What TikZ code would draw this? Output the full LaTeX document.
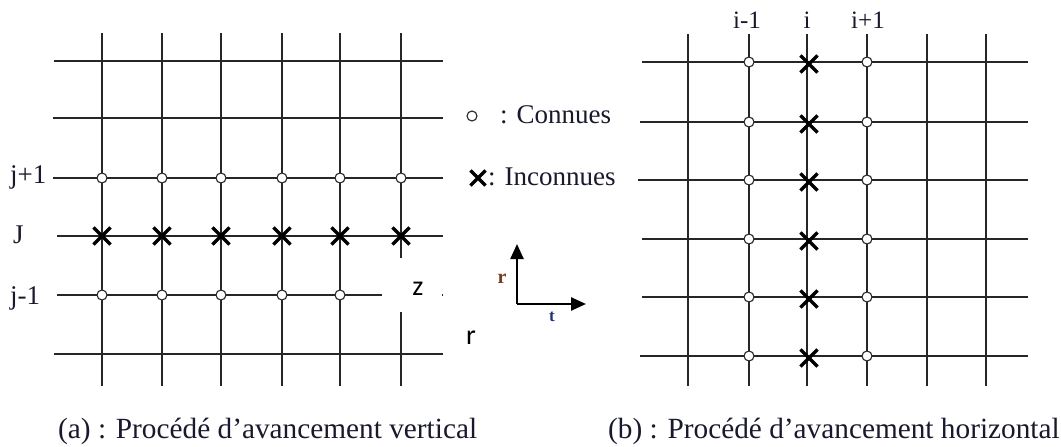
\documentclass[tikz,border=0pt]{standalone}
\usepackage{fontspec}
\setmainfont{Liberation Serif}
\newfontfamily\sansf{Carlito}
\usetikzlibrary{arrows.meta,shapes.misc,calc}
\definecolor{txt}{RGB}{25,25,45}
\definecolor{rbrown}{RGB}{120,60,30}
\definecolor{tblue}{RGB}{30,50,120}
\begin{document}
\begin{tikzpicture}[x=1pt,y=-1pt,
  gridline/.style={line width=1.2pt, black!85},
  known/.style={circle, draw=black!85, fill=white, line width=1.1pt, inner sep=0pt, minimum size=10pt},
  unknown/.style={cross out, draw=black, line width=3.2pt, inner sep=0pt, minimum size=14pt},
  lbl/.style={text=txt, inner sep=0pt, font=\fontsize{27}{27}\selectfont},
  ilbl/.style={text=txt, inner sep=0pt, font=\fontsize{25}{25}\selectfont},
  captext/.style={text=txt, inner sep=0pt, font=\fontsize{29.3}{30}\selectfont},
  sanslbl/.style={inner sep=0pt, font=\sansf\fontsize{28}{28}\selectfont},
  axisarrow/.style={line width=2.4pt, -{Triangle[length=15pt,width=13pt]}}
]
\useasboundingbox (0,0) rectangle (1061,447);

% ---------- left grid ----------
\foreach \c/\x in {1/102,2/162,3/221,4/282,5/340,6/401}{
  \coordinate (La\c) at (\x,33);
  \coordinate (Lb\c) at (\x,386);
  \draw[gridline] (La\c) -- (Lb\c);
}
\foreach \r/\y/\s in {1/61/54,2/118/53,3/178/53,4/236/57,5/295/57,6/354/54}{
  \coordinate (Ls\r) at (\s,\y);
  \coordinate (Le\r) at (443,\y);
  \draw[gridline] (Ls\r) -- (Le\r);
}
% white patch with z
\node[fill=white, inner sep=0pt, minimum width=60pt, minimum height=54pt] (zbox) at (412,285) {};
\node[sanslbl] (zlbl) at (418,289) {z};
\node[sanslbl] (rlbl) at (471,338) {r};

\foreach \c in {1,...,6}{
  \node[known] (Lk\c) at (La\c |- Ls3) {};
  \node[unknown] (Lu\c) at (La\c |- Ls4) {};
}
\foreach \c in {1,...,5}{
  \node[known] (Lm\c) at (La\c |- Ls5) {};
}
\node[lbl, anchor=base west] (jp) at (10,183) {j+1};
\node[lbl, anchor=base west] (jj) at (13,243) {J};
\node[lbl, anchor=base west] (jm) at (10,304) {j-1};

% ---------- legend ----------
\node[known] (legk) at (472,116) {};
\node[lbl, anchor=base west] (legkt) at (500,123) {: Connues};
\node[unknown, minimum size=12pt] (legu) at (478,178) {};
\node[lbl, anchor=base west] (legut) at (488,185) {: Inconnues};

% ---------- axes ----------
\coordinate (O) at (517,304);
\coordinate (Ar) at (517,244);
\coordinate (At) at (586,304);
\draw[axisarrow] (O) -- (Ar);
\draw[axisarrow] (O) -- (At);
\node[inner sep=0pt, text=rbrown, font=\bfseries\fontsize{20}{20}\selectfont] (axr) at (502,279) {r};
\node[inner sep=0pt, text=tblue, font=\bfseries\fontsize{17}{17}\selectfont] (axt) at (552,317) {t};

% ---------- right grid ----------
\foreach \c/\x in {1/688,2/749,3/807,4/867,5/927,6/986}{
  \coordinate (Ra\c) at (\x,34);
  \coordinate (Rb\c) at (\x,386);
  \draw[gridline] (Ra\c) -- (Rb\c);
}
\foreach \r/\y/\s in {1/62/642,2/122/640,3/180/638,4/239/642,5/297/642,6/356/640}{
  \coordinate (Rs\r) at (\s,\y);
  \coordinate (Re\r) at (1028,\y);
  \draw[gridline] (Rs\r) -- (Re\r);
}
\foreach \r in {1,...,6}{
  \node[known] (Rk\r) at (Ra2 |- Rs\r) {};
  \node[known] (Rl\r) at (Ra4 |- Rs\r) {};
  \node[unknown] (Ru\r) at ($(Ra3 |- Rs\r)+(2,2)$) {};
}
\node[ilbl, anchor=base] (im) at (747,28) {i-1};
\node[ilbl, anchor=base] (ii) at (807,28) {i};
\node[ilbl, anchor=base] (ip) at (868,28) {i+1};

% ---------- captions ----------
\node[captext, anchor=base west] (capa) at (58,438) {(a) : Procédé d’avancement vertical};
\node[captext, anchor=base west] (capb) at (608,438) {(b) : Procédé d’avancement horizontal};
\end{tikzpicture}
\end{document}
